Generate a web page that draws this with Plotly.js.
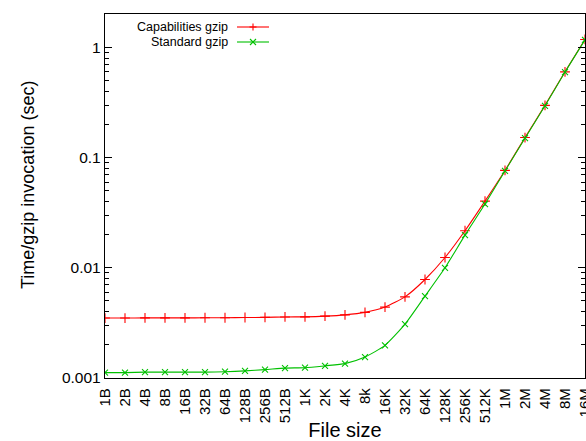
<!DOCTYPE html>
<html>
<head>
<meta charset="utf-8">
<script src="https://cdn.plot.ly/plotly-3.0.1.min.js"></script>
<style>html,body{margin:0;padding:0;background:#fff;}#chart{width:586px;height:441px;}</style>
</head>
<body>
<div id="chart"></div>
<script>
var categories = ["1B","2B","4B","8B","16B","32B","64B","128B","256B","512B","1K","2K","4K","8k","16K","32K","64K","128K","256K","512K","1M","2M","4M","8M","16M"];
var capabilitiesGzip = [0.00350,0.00350,0.00351,0.00351,0.00351,0.00352,0.00352,0.00354,0.00355,0.00358,0.00359,0.00364,0.00374,0.00394,0.00440,0.00545,0.00783,0.0124,0.0217,0.0403,0.0765,0.152,0.298,0.600,1.18];
var standardGzip = [0.00112,0.00112,0.00113,0.00113,0.00113,0.00113,0.00114,0.00116,0.00119,0.00123,0.00124,0.00129,0.00135,0.00155,0.00198,0.00308,0.00553,0.0100,0.0198,0.0379,0.0757,0.150,0.295,0.597,1.17];
var seriesNames = ["Capabilities gzip","Standard gzip"];
var yTickVals = [0.001,0.01,0.1,1];
var yTickText = ["0.001","0.01","0.1","1"];

var RED = "#ff0000", GREEN = "#00c000";
var FONT = "Liberation Sans, Arial, Helvetica, sans-serif";

var traces = [
  {x: categories, y: capabilitiesGzip, name: seriesNames[0], type: "scatter", mode: "lines+markers",
   line: {color: RED, width: 1.1, shape: "spline", smoothing: 0.6},
   marker: {symbol: "cross-thin", size: 7, color: RED, line: {color: RED, width: 1.1}}},
  {x: categories, y: standardGzip, name: seriesNames[1], type: "scatter", mode: "lines+markers",
   line: {color: GREEN, width: 1.1, shape: "spline", smoothing: 0.6},
   marker: {symbol: "x-thin", size: 6, color: GREEN, line: {color: GREEN, width: 1.1}}}
];

// legend layout (paper coords): plot area 105..585 x, 14..378 y
function px(x){ return (x-105)/480; }
function py(y){ return (378-y)/364; }
var rows = [27, 42];
var shapes = [];
var annotations = [];
var colors = [RED, GREEN];
rows.forEach(function(r, i){
  shapes.push({type:"line", xref:"paper", yref:"paper", x0:px(237), x1:px(269), y0:py(r), y1:py(r), line:{color:colors[i], width:1.1}});
  if (i === 0) {
    shapes.push({type:"line", xref:"paper", yref:"paper", x0:px(249.5), x1:px(256.5), y0:py(r), y1:py(r), line:{color:RED, width:1.1}});
    shapes.push({type:"line", xref:"paper", yref:"paper", x0:px(253), x1:px(253), y0:py(r-3.5), y1:py(r+3.5), line:{color:RED, width:1.1}});
  } else {
    shapes.push({type:"line", xref:"paper", yref:"paper", x0:px(250), x1:px(256), y0:py(r-3), y1:py(r+3), line:{color:GREEN, width:1.1}});
    shapes.push({type:"line", xref:"paper", yref:"paper", x0:px(250), x1:px(256), y0:py(r+3), y1:py(r-3), line:{color:GREEN, width:1.1}});
  }
  annotations.push({xref:"paper", yref:"paper", x:px(230), y:py(r), xanchor:"right", yanchor:"middle",
    text: seriesNames[i], showarrow:false, font:{family:FONT, size:12.5, color:"#000"}});
});
annotations.push({xref:"paper", yref:"paper", x:px(28), y:py(185), xanchor:"center", yanchor:"middle",
  textangle:-90, text:"Time/gzip invocation (sec)", showarrow:false, font:{family:FONT, size:18, color:"#000"}});

var layout = {
  width: 586, height: 441,
  margin: {l: 105, r: 1, t: 14, b: 63},
  paper_bgcolor: "#fff", plot_bgcolor: "#fff",
  showlegend: false,
  font: {family: FONT, color: "#000"},
  xaxis: {
    type: "category", range: [0, 24], showgrid: false, zeroline: false,
    showline: true, linecolor: "#000", linewidth: 1.2, mirror: true,
    ticks: "", tickangle: -90, ticklabelstandoff: 3, tickfont: {family: FONT, size: 15, color: "#000"},
    title: {text: "File size", font: {family: FONT, size: 20, color: "#000"}, standoff: 4}
  },
  yaxis: {
    type: "log", range: [-3, 0.303], showgrid: false, zeroline: false,
    showline: true, linecolor: "#000", linewidth: 1.2, mirror: "ticks",
    ticks: "inside", ticklen: 7, tickcolor: "#000", tickwidth: 1,
    tickvals: yTickVals, ticktext: yTickText,
    tickfont: {family: FONT, size: 15.5, color: "#000"},
    minor: {ticks: "inside", ticklen: 4, tickcolor: "#000", tickwidth: 1, dtick: "D1", showgrid: false}
  },
  shapes: shapes,
  annotations: annotations
};

Plotly.newPlot("chart", traces, layout, {displayModeBar: false, staticPlot: true});
</script>
</body>
</html>
